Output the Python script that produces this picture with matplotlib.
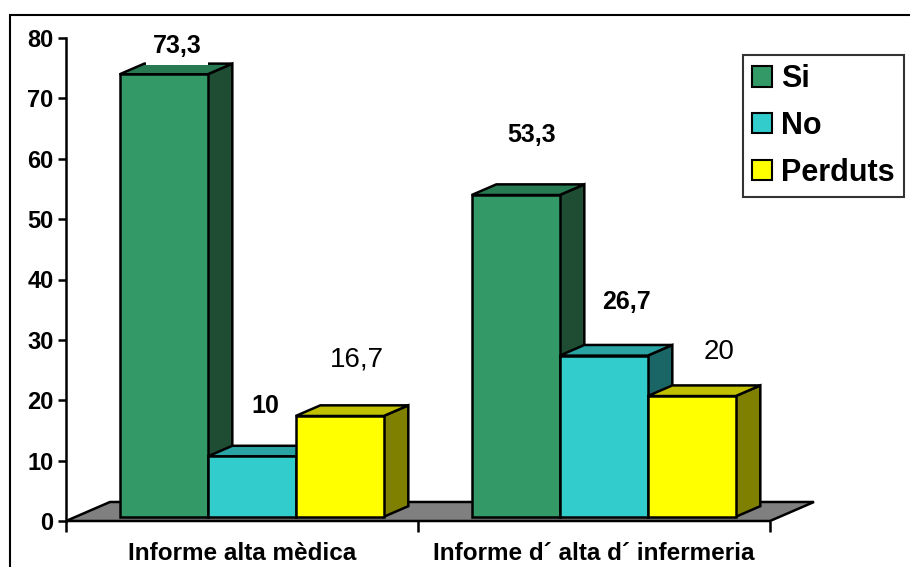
import numpy as np
import matplotlib.pyplot as plt
from matplotlib.patches import Polygon, Patch, Rectangle

# ----------------------------------------
# Data
# ----------------------------------------
categories = ["Informe alta mèdica", "Informe d´ alta d´ infermeria"]
series_names = ["Si", "No", "Perduts"]
si_vals = [73.3, 53.3]
no_vals = [10, 26.7]
perduts_vals = [16.7, 20]
yticks = [0, 10, 20, 30, 40, 50, 60, 70, 80]

values = [si_vals, no_vals, perduts_vals]

# front / top / side shades per series
front_cols = ["#339966", "#33CCCC", "#FFFF00"]
top_cols = ["#287A52", "#29A3A3", "#C0C000"]
side_cols = ["#1E4D33", "#1A6666", "#808000"]
label_bold = [True, True, False]

# label placement relative to the bar's front top centre (category units, value units)
label_dx = [[0.038, 0.044], [0.038, 0.066], [0.049, 0.077]]
label_dy = [[5.4, 10.6], [9.0, 9.6], [10.1, 8.0]]

plt.rcParams['font.family'] = ['Liberation Sans', 'DejaVu Sans']

fig = plt.figure(figsize=(9.1, 5.67), dpi=100)
W, H = 910, 567
ax = fig.add_axes([66 / W, 1 - 521 / H, 704 / W, 483 / H])
ax.set_xlim(-0.5, 1.5)
ax.set_ylim(0, 80)

# floor depth vector in data units
dep_x = 0.125
dep_y = 3.15
f0, f1 = 0.22, 0.78  # bar front/back position within the floor depth
bw = 0.25
lw = 1.8

# floor
floor = Polygon([(-0.5, 0), (1.5, 0), (1.5 + dep_x, dep_y), (-0.5 + dep_x, dep_y)],
                closed=True, facecolor="#808080", edgecolor="black", lw=lw,
                clip_on=False, zorder=1, joinstyle='miter')
ax.add_patch(floor)

z = 2
for g in range(len(categories)):
    for s in range(len(series_names)):
        v = values[s][g]
        x0 = g + (s - 1.5) * bw + f0 * dep_x
        x1 = x0 + bw
        y0 = f0 * dep_y
        y1 = v + f0 * dep_y
        ddx = (f1 - f0) * dep_x
        ddy = (f1 - f0) * dep_y
        front = Polygon([(x0, y0), (x1, y0), (x1, y1), (x0, y1)],
                        facecolor=front_cols[s], edgecolor="black", lw=lw,
                        clip_on=False, zorder=z, joinstyle='miter')
        side = Polygon([(x1, y0), (x1 + ddx, y0 + ddy), (x1 + ddx, y1 + ddy), (x1, y1)],
                       facecolor=side_cols[s], edgecolor="black", lw=lw,
                       clip_on=False, zorder=z, joinstyle='miter')
        top = Polygon([(x0, y1), (x1, y1), (x1 + ddx, y1 + ddy), (x0 + ddx, y1 + ddy)],
                      facecolor=top_cols[s], edgecolor="black", lw=lw,
                      clip_on=False, zorder=z, joinstyle='miter')
        for p in (side, top, front):
            ax.add_patch(p)
        z += 1

        lx = (x0 + x1) / 2 + label_dx[s][g]
        ly = v + label_dy[s][g]
        txt = f"{v:g}".replace(".", ",")
        if label_bold[s]:
            t = ax.text(lx, ly, txt, ha="center", va="center", fontsize=18,
                        fontweight="bold", zorder=20, clip_on=False)
        else:
            t = ax.text(lx, ly, txt, ha="center", va="center", fontsize=20,
                        zorder=20, clip_on=False)
        if v > 70:
            t.set_bbox(dict(facecolor="white", edgecolor="none", pad=5))

# axes styling
for side_name in ("top", "right", "bottom"):
    ax.spines[side_name].set_visible(False)
ax.spines["left"].set_linewidth(lw)
ax.spines["left"].set_zorder(30)
ax.set_yticks(yticks)
ax.set_yticklabels([str(t) for t in yticks])
ax.tick_params(axis="y", direction="out", length=6, width=lw, pad=3,
               labelsize=17)
for lab in ax.get_yticklabels():
    lab.set_fontweight("bold")

ax.set_xticks([-0.5, 0.5, 1.5])
ax.set_xticklabels(["", "", ""])
ax.tick_params(axis="x", which="major", direction="out", length=8, width=lw)
ax.set_xticks([0, 1], minor=True)
ax.set_xticklabels(categories, minor=True, fontsize=17.5, fontweight="bold")
ax.tick_params(axis="x", which="minor", length=0, pad=15)
ax.patch.set_visible(False)

# legend
handles = [Patch(facecolor=c, edgecolor="black", lw=1.5) for c in front_cols]
leg = fig.legend(handles, series_names, loc="upper left",
                 bbox_to_anchor=(743 / W, 1 - 55 / H), frameon=True,
                 fancybox=False, shadow=False, handlelength=0.65,
                 handleheight=0.65, handletextpad=0.3, borderpad=0.3,
                 labelspacing=0.55, borderaxespad=0,
                 prop={"size": 22, "weight": "bold"})
leg.get_frame().set_edgecolor("black")
leg.get_frame().set_linewidth(1.5)

# chart border
fig.patches.append(Rectangle((10 / W, -0.05), 1.0, 1 - 15 / H + 0.05,
                             transform=fig.transFigure, fill=False,
                             edgecolor="black", lw=1.5, zorder=0))

fig.savefig("out.png", dpi=100)
